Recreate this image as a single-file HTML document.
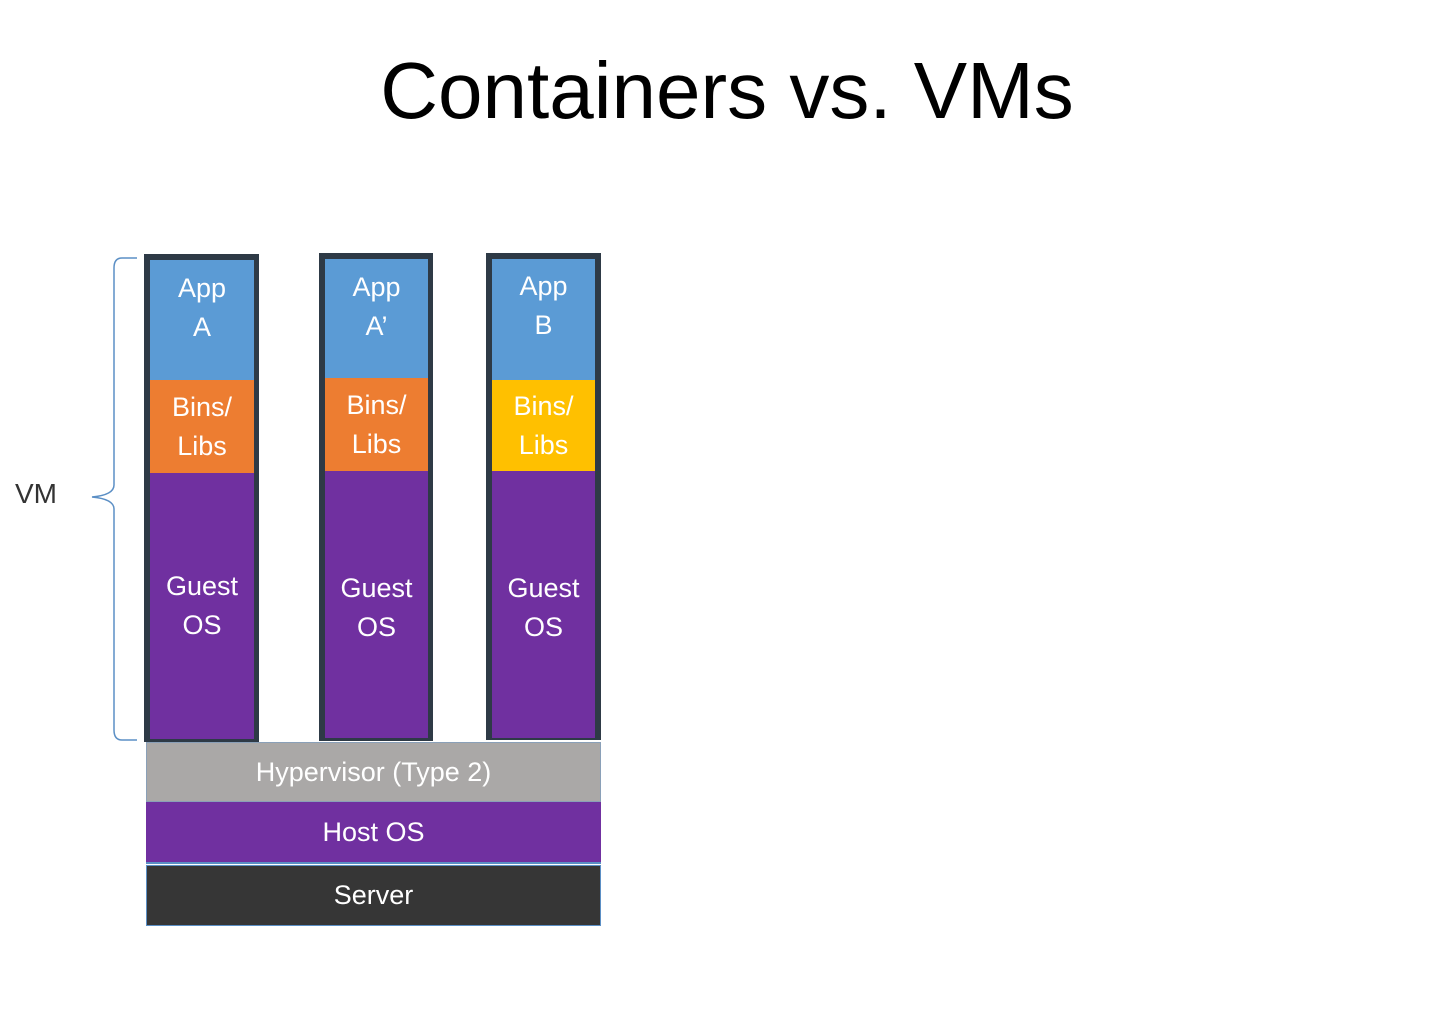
<!DOCTYPE html>
<html><head><style>
body{margin:0;width:1446px;height:1032px;background:#fff;position:relative;overflow:hidden;font-family:"Liberation Sans",sans-serif}
.a{position:absolute;box-sizing:border-box}
.t{display:flex;align-items:center;justify-content:center;text-align:center;color:#fff;font-size:27px;line-height:39px}
.col{background:#2e3a46}
</style></head><body>
<div class="a" style="left:0;top:46px;width:1446px;text-align:center;font-size:80px;color:#000;line-height:90px;padding-left:8px">Containers vs. VMs</div>
<div class="a" style="left:15px;top:478px;font-size:28px;color:#333">VM</div>
<svg class="a" style="left:0;top:0" width="200" height="760"><path d="M137 258 H122 Q114 258 114 268 V485 Q114 495 92 497 Q114 499 114 509 V730 Q114 740 122 740 H137" fill="none" stroke="#5b8fc5" stroke-width="1.5"/></svg>

<div class="a col" style="left:144px;top:254px;width:115px;height:488px"></div>
<div class="a t" style="left:150px;top:260px;width:104px;height:120px;background:#5b9bd5;padding-bottom:24px">App<br>A</div>
<div class="a t" style="left:150px;top:380px;width:104px;height:93px;background:#ed7d31">Bins/<br>Libs</div>
<div class="a t" style="left:150px;top:473px;width:104px;height:266px;background:#7030a0">Guest<br>OS</div>

<div class="a col" style="left:319px;top:253px;width:114px;height:488px"></div>
<div class="a t" style="left:325px;top:259px;width:103px;height:119px;background:#5b9bd5;padding-bottom:24px">App<br>A’</div>
<div class="a t" style="left:325px;top:378px;width:103px;height:93px;background:#ed7d31">Bins/<br>Libs</div>
<div class="a t" style="left:325px;top:471px;width:103px;height:267px;background:#7030a0;padding-top:6px">Guest<br>OS</div>

<div class="a col" style="left:486px;top:253px;width:115px;height:487px"></div>
<div class="a t" style="left:492px;top:259px;width:103px;height:121px;background:#5b9bd5;padding-bottom:28px">App<br>B</div>
<div class="a t" style="left:492px;top:380px;width:103px;height:91px;background:#ffc000">Bins/<br>Libs</div>
<div class="a t" style="left:492px;top:471px;width:103px;height:267px;background:#7030a0;padding-top:6px">Guest<br>OS</div>

<div class="a t" style="left:146px;top:742px;width:455px;height:60px;background:#aaa8a7;border:1px solid #8aa0b8">Hypervisor (Type 2)</div>
<div class="a t" style="left:146px;top:802px;width:455px;height:62px;background:#7030a0;border-bottom:2px solid #5b8fc5">Host OS</div>
<div class="a t" style="left:146px;top:865px;width:455px;height:61px;background:#363636;border:1px solid #5b8fc5">Server</div>
</body></html>
